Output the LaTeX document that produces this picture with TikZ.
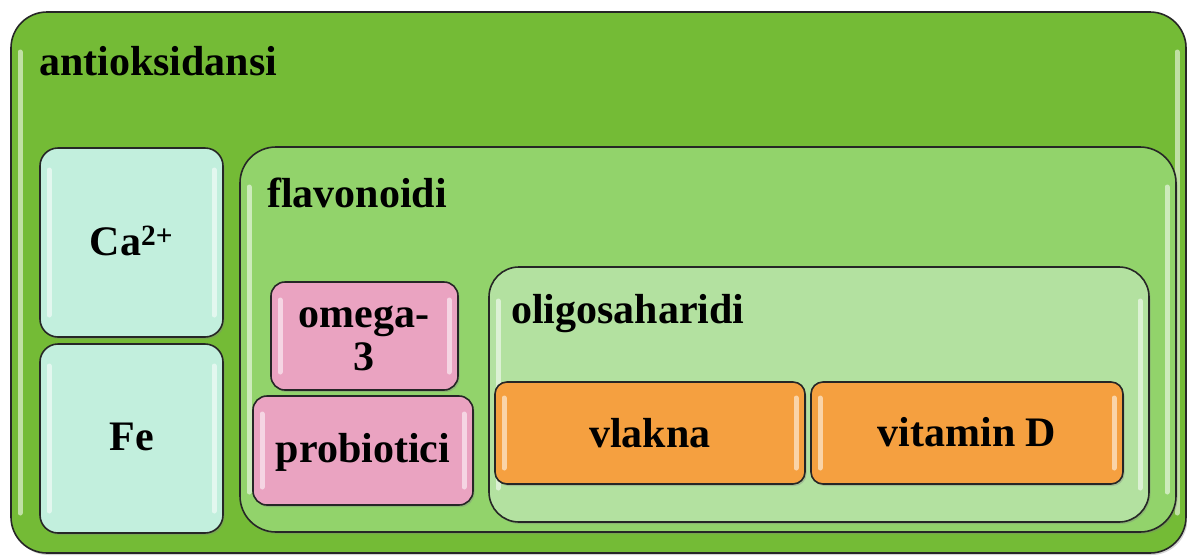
\documentclass[tikz,border=0pt]{standalone}
\usepackage{fontspec}
\setmainfont{Liberation Serif}
\usetikzlibrary{shadows}
\definecolor{outerg}{HTML}{74BB36}
\definecolor{flavg}{HTML}{92D36B}
\definecolor{oligg}{HTML}{B3E1A0}
\definecolor{mint}{HTML}{C2EFDD}
\definecolor{pinkb}{HTML}{EAA3C1}
\definecolor{orangeb}{HTML}{F5A040}
\tikzset{
  panel/.style={draw=black!85, line width=1.6pt, inner sep=0pt, rounded corners=#1,
    drop shadow={shadow xshift=1.5pt, shadow yshift=-2pt, opacity=0.35}},
  lbl/.style={font=\fontsize{42}{44}\selectfont\bfseries, inner sep=0pt},
  gloss/.style={white, opacity=0.55, line width=5pt, line cap=round},
}
% name, x1, y1, x2, y2, fill, radius
\newcommand\mybox[7]{%
  \node[panel=#7pt, fill=#6, minimum width={(#4-#2)*1pt}, minimum height={(#5-#3)*1pt}]
    (#1) at ({(#2+#4)/2},{(#3+#5)/2}) {};
  \draw[gloss] ({#2+9},{#3+#7+4}) -- ({#2+9},{#5-#7-4});
  \draw[gloss] ({#4-9},{#3+#7+4}) -- ({#4-9},{#5-#7-4});
}
\begin{document}
\begin{tikzpicture}[x=1pt,y=-1pt]
\useasboundingbox (0,0) rectangle (1187,555);
\mybox{outer}{11}{12}{1186}{553}{outerg}{36}
\node[lbl, anchor=base west] (tAnt) at (39,75) {antioksidansi};
\mybox{ca}{40}{148}{223}{337}{mint}{18}
\node[lbl, anchor=base] (tCa) at (131.5,255) {Ca\textsuperscript{2+}};
\mybox{fe}{40}{344}{223}{533}{mint}{18}
\node[lbl, anchor=base] (tFe) at (131.5,450) {Fe};
\mybox{flav}{240}{147}{1176}{532}{flavg}{36}
\node[lbl, anchor=base west] (tFlav) at (267,207) {flavonoidi};
\mybox{omega}{271}{282}{458}{390}{pinkb}{14}
\node[lbl, anchor=base] (tOm1) at (364,327) {omega-};
\node[lbl, anchor=base] (tOm2) at (364,370) {3};
\mybox{prob}{253}{396}{473}{505}{pinkb}{14}
\node[lbl, anchor=base] (tProb) at (363,462) {probiotici};
\mybox{olig}{489}{267}{1149}{522}{oligg}{30}
\node[lbl, anchor=base west] (tOlig) at (511,323) {oligosaharidi};
\mybox{vl}{495}{382}{805}{484}{orangeb}{12}
\node[lbl, anchor=base] (tVl) at (650,447) {vlakna};
\mybox{vd}{811}{382}{1123}{484}{orangeb}{12}
\node[lbl, anchor=base] (tVd) at (967,446) {vitamin D};
\end{tikzpicture}
\end{document}
